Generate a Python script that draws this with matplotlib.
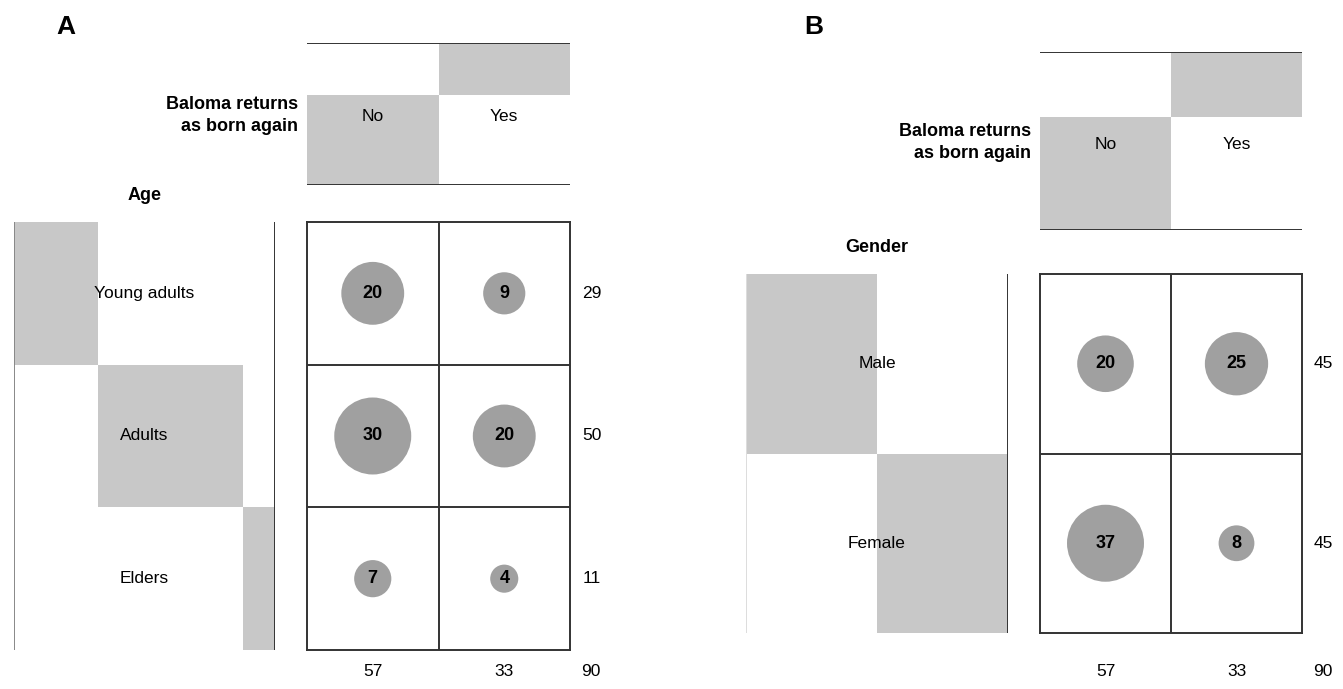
import matplotlib
matplotlib.use('Agg')
import matplotlib.pyplot as plt
import numpy as np

plt.rcParams['font.family'] = ['Liberation Sans', 'DejaVu Sans']

# data
answer_levels = ['No', 'Yes']
answer_title = 'Baloma returns\nas born again'

age_levels = ['Young adults', 'Adults', 'Elders']
age_counts = [[20, 9],
              [30, 20],
              [7, 4]]

gender_levels = ['Male', 'Female']
gender_counts = [[20, 25],
                 [37, 8]]

W, H = 1343, 689
BAR = '#c8c8c8'
DOT = '#a0a0a0'
LINE = '#333333'
FS = 12.5
FSB = 13


def frac(x0, y0, x1, y1):
    return [x0 / W, 1 - y1 / H, (x1 - x0) / W, (y1 - y0) / H]


def clean(ax):
    ax.set_xticks([])
    ax.set_yticks([])
    for s in ax.spines.values():
        s.set_visible(False)


def panel(fig, letter, row_title, rows, counts, top_box, left_box, grid_box,
          letter_xy, total_y, left_edge='#888888'):
    counts = np.array(counts)
    row_tot = counts.sum(axis=1)
    col_tot = counts.sum(axis=0)
    total = counts.sum()
    nr, nc = counts.shape

    # column margins
    ax = fig.add_axes(frac(*top_box))
    clean(ax)
    bottoms = np.concatenate([[0], np.cumsum(col_tot)[:-1]])
    ax.bar(np.arange(nc), col_tot, bottom=bottoms, width=1.0, color=BAR)
    ax.set_xlim(-0.5, nc - 0.5)
    ax.set_ylim(0, total)
    ax.axhline(0, color=LINE, lw=1.4)
    ax.axhline(total, color=LINE, lw=1.4)
    for j, name in enumerate(answer_levels):
        ax.text(j, total * 0.48, name, ha='center', va='center', fontsize=FS)
    ax.text(-0.035, 0.49, answer_title, transform=ax.transAxes, ha='right',
            va='center', multialignment='right', linespacing=1.4,
            fontsize=FSB, weight='bold')

    # row margins
    ax = fig.add_axes(frac(*left_box))
    clean(ax)
    lefts = np.concatenate([[0], np.cumsum(row_tot)[:-1]])
    ax.barh(np.arange(nr) + 0.5, row_tot, left=lefts, height=1.0, color=BAR)
    ax.set_xlim(0, total)
    ax.set_ylim(nr, 0)
    ax.axvline(0, color=left_edge, lw=1.4)
    ax.axvline(total, color=LINE, lw=1.4)
    for i, name in enumerate(rows):
        ax.text(total / 2, i + 0.5, name, ha='center', va='center', fontsize=FS)
    ax.annotate(row_title, xy=(0.5, 1), xycoords='axes fraction',
                xytext=(0, 19), textcoords='offset points', ha='center',
                va='center', fontsize=FSB, weight='bold')

    # cells
    ax = fig.add_axes(frac(*grid_box))
    ax.set_xticks([])
    ax.set_yticks([])
    for s in ax.spines.values():
        s.set_color(LINE)
        s.set_linewidth(1.4)
    ax.set_xlim(0, nc)
    ax.set_ylim(nr, 0)
    for j in range(1, nc):
        ax.axvline(j, color=LINE, lw=1.4)
    for i in range(1, nr):
        ax.axhline(i, color=LINE, lw=1.4)
    xx, yy = np.meshgrid(np.arange(nc) + 0.5, np.arange(nr) + 0.5)
    ax.scatter(xx.ravel(), yy.ravel(), s=3073 * counts.ravel() / counts.max(),
               color=DOT, edgecolors='none', zorder=3)
    for i in range(nr):
        for j in range(nc):
            ax.text(j + 0.5, i + 0.5, str(counts[i, j]), ha='center',
                    va='center', fontsize=FSB, weight='bold', zorder=4)
        ax.annotate(str(row_tot[i]), xy=(nc, i + 0.5), xycoords='data',
                    xytext=(15.5, 0), textcoords='offset points', ha='center',
                    va='center', fontsize=FS)
    grid_w = grid_box[2] - grid_box[0]
    grid_x0 = grid_box[0]
    for j in range(nc):
        fig.text((grid_x0 + grid_w * (j + 0.5) / nc) / W, 1 - total_y / H,
                 str(col_tot[j]), ha='center', va='center', fontsize=FS)
    fig.text((grid_box[2] + 21) / W, 1 - total_y / H, str(total),
             ha='center', va='center', fontsize=FS)

    fig.text(letter_xy[0] / W, 1 - letter_xy[1] / H, letter, ha='center',
             va='center', fontsize=19, weight='bold')


fig = plt.figure(figsize=(W / 100, H / 100), dpi=100)

panel(fig, 'A', 'Age', age_levels, age_counts,
      top_box=(307, 43, 570, 185), left_box=(14, 222, 275, 650),
      grid_box=(307, 222, 570, 650), letter_xy=(66, 27), total_y=672)

panel(fig, 'B', 'Gender', gender_levels, gender_counts,
      top_box=(1040, 52, 1302, 230), left_box=(746, 274, 1008, 633),
      grid_box=(1040, 274, 1302, 633), letter_xy=(814, 27), total_y=672,
      left_edge='#dddddd')

fig.savefig('out.png', dpi=100)
